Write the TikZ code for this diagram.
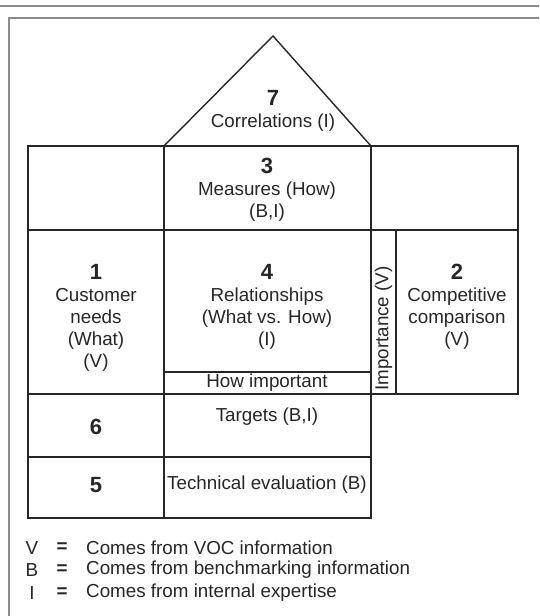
\documentclass[tikz,border=0pt]{standalone}
\usepackage{fontspec}
\setmainfont{Liberation Sans}
\newcommand{\numf}{\fontsize{22}{24}\selectfont\bfseries}
\begin{document}
\begin{tikzpicture}[
        x=1pt, y=1pt,
        grid/.style={line width=1.4pt, black!85},
        frame/.style={line width=1.8pt, black!45},
        lbl/.style={align=center, inner sep=0pt, font=\fontsize{18.8}{22}\selectfont, text=black!85},
        legend/.style={inner sep=0pt, font=\fontsize{18.8}{22}\selectfont, text=black!85}
    ]
        \useasboundingbox (0,0) rectangle (539,616);

        % Page rules
        \draw[frame] (0,610) -- (539,610);
        \draw[frame] (9,0) -- (9,598) -- (539,598);

        % House outline
        \draw[grid] (28,98) rectangle (371,470);
        \draw[grid] (371,222) rectangle (518,470);
        \draw[grid] (28,386) -- (518,386);
        \draw[grid] (164,98) -- (164,470);
        \draw[grid] (28,222) -- (371,222);
        \draw[grid] (28,159) -- (371,159);
        \draw[grid] (164,244) -- (371,244);
        \draw[grid] (396,222) -- (396,386);

        % Roof
        \draw[grid] (164,470) -- (273,580) -- (371,470);

        % Rooms
        \node[lbl] (corr) at (273,505) {{\numf 7}\\Correlations (I)};
        \node[lbl] (meas) at (267,426) {{\numf 3}\\Measures (How)\\(B,I)};
        \node[lbl] (needs) at (96,298) {{\numf 1}\\Customer\\needs\\(What)\\(V)};
        \node[lbl] (rel) at (267,309) {{\numf 4}\\Relationships\\(What vs. How)\\(I)};
        \node[lbl] (howimp) at (267,233) {How important};
        \node[lbl, rotate=90] (imp) at (383.5,287.5) {Importance (V)};
        \node[lbl] (comp) at (457,309) {{\numf 2}\\Competitive\\comparison\\(V)};
        \node[lbl] (six) at (96,189) {\numf 6};
        \node[lbl] (targets) at (267,199) {Targets (B,I)};
        \node[lbl] (five) at (96,131) {\numf 5};
        \node[lbl] (techeval) at (267,131) {Technical evaluation (B)};

        % Legend
        \foreach \key/\what/\ypos [count=\i] in {V/VOC information/68, B/benchmarking information/46, I/internal expertise/23} {
            \node[legend] (key\i) at (32,\ypos) {\key};
            \node[legend] (eq\i) at (62,\ypos) {\textbf{=}};
            \node[legend, anchor=west] (txt\i) at (86,\ypos) {Comes from \what};
        }
    \end{tikzpicture}
\end{document}
